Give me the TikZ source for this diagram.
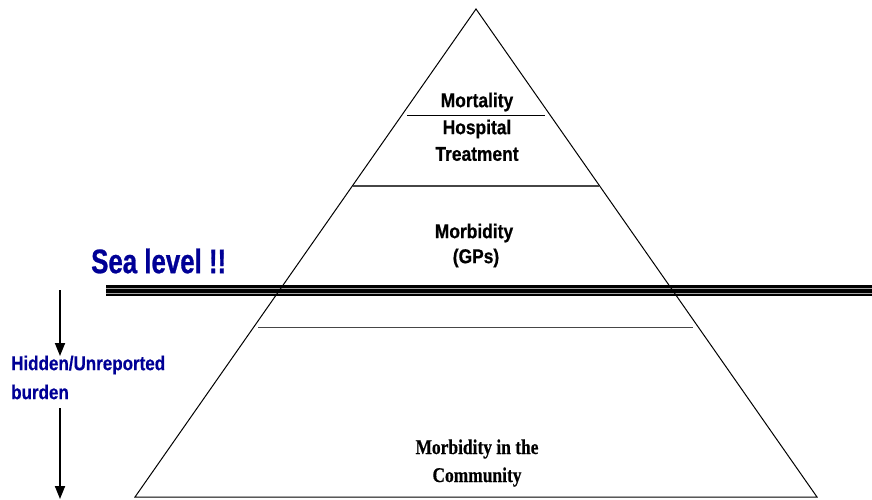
\documentclass[tikz,border=0pt]{standalone}
\usepackage{fontspec}
\setmainfont{Liberation Sans}
\newfontfamily\pyrfont[FakeStretch=0.87,FakeBold=0.6]{Liberation Sans}
\newfontfamily\seafont[FakeStretch=0.76,FakeBold=0.8]{Liberation Sans}
\newfontfamily\hidfont[FakeStretch=0.85,FakeBold=0.4]{Liberation Sans}
\newfontfamily\comfont[FakeStretch=0.83,FakeBold=0.4]{Liberation Serif}
\usetikzlibrary{arrows.meta}
\definecolor{seablue}{RGB}{0,0,150}
\definecolor{divgray}{RGB}{70,70,70}
\tikzset{
  pyrlabel/.style={inner sep=0pt, font=\pyrfont\bfseries\fontsize{20}{22}\selectfont, text=black},
  comlabel/.style={inner sep=0pt, font=\comfont\bfseries\fontsize{21}{23}\selectfont, text=black},
  sealabel/.style={inner sep=0pt, anchor=west, font=\seafont\bfseries\fontsize{34}{36}\selectfont, text=seablue},
  hidlabel/.style={inner sep=0pt, anchor=west, font=\hidfont\bfseries\fontsize{20}{22}\selectfont, text=seablue},
  divline/.style={line width=1.4pt, draw=divgray},
  downarrow/.style={line width=1.8pt, -{Triangle[length=13pt,width=10pt]}}
}
\begin{document}
\begin{tikzpicture}[x=1pt,y=-1pt]
\useasboundingbox[fill=white] (0,0) rectangle (872,500);
% sea level triple line
\fill[black] (106,284.8) rectangle (872,295.5);
\draw[gray!70, line width=0.6pt] (106,288.0) -- (872,288.0);
\draw[gray!70, line width=0.6pt] (106,293.0) -- (872,293.0);
% pyramid
\coordinate (apex) at (476,9);
\coordinate (bl) at (135,497);
\coordinate (br) at (817,497);
\draw[line width=1pt, line join=miter] (apex) -- (br) -- (bl) -- cycle;
% dividers
\coordinate (m1) at (407,115.5); \coordinate (m2) at (545,115.5);
\draw[line width=1.1pt] (m1) -- (m2);
\coordinate (d1) at (353,186); \coordinate (d2) at (599,186);
\draw[divline] (d1) -- (d2);
\coordinate (e1) at (258,327.5); \coordinate (e2) at (693,327.5);
\draw[divline] (e1) -- (e2);
% labels
\node[pyrlabel] (mort) at (477,102) {Mortality};
\node[pyrlabel] (hosp) at (477,129) {Hospital};
\node[pyrlabel] (treat) at (477,154) {Treatment};
\node[pyrlabel] (morb) at (474,233) {Morbidity};
\node[pyrlabel] (gps) at (476,258) {(GPs)};
\node[comlabel] (mic) at (477,449) {Morbidity in the};
\node[comlabel] (comm) at (477,477) {Community};
\node[sealabel] (sea) at (91,261) {Sea level !!};
\node[hidlabel] (hid) at (11,365) {Hidden/Unreported};
\node[hidlabel] (bur) at (11,392) {burden};
% arrows
\coordinate (a1s) at (60,290); \coordinate (a1e) at (60,356);
\coordinate (a2s) at (60,408); \coordinate (a2e) at (60,499);
\draw[downarrow] (a1s) -- (a1e);
\draw[downarrow] (a2s) -- (a2e);
\end{tikzpicture}
\end{document}
